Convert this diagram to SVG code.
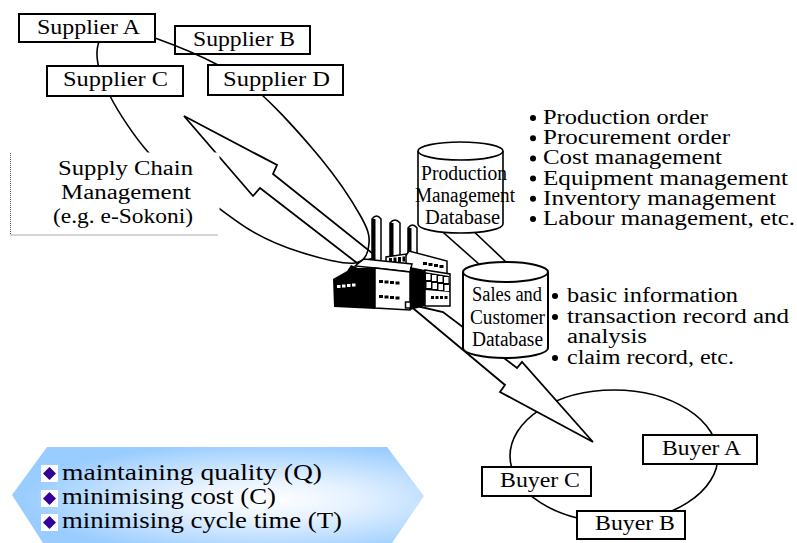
<svg xmlns="http://www.w3.org/2000/svg" width="797" height="543" viewBox="0 0 797 543">
  <defs>
    <radialGradient id="glow" cx="0.62" cy="0.55" r="0.6">
      <stop offset="0" stop-color="#ffffff"/>
      <stop offset="0.35" stop-color="#e6f2ff"/>
      <stop offset="1" stop-color="#99ccff"/>
    </radialGradient>
    <style>
      .box { fill: #fff; stroke: #000; stroke-width: 2; }
      .lbl { font-family: 'Liberation Serif', serif; font-size: 20px; fill: #000; }
      .cond { font-family: 'Liberation Serif', serif; font-size: 20px; fill: #000; }
      .ring { fill: none; stroke: #000; stroke-width: 1.6; }
      .bolt { fill: #fff; stroke: #000; stroke-width: 1.8; stroke-linejoin: miter; }
      .pipe { fill: none; stroke: #000; stroke-width: 1.6; }
      .db { fill: #fff; stroke: #000; }
      .blk { fill: #000; }
      .wht { fill: #fff; stroke: #000; stroke-width: 1.5; }
      .dot { fill: #000; }
      .goal { font-family: 'Liberation Serif', serif; font-size: 23px; fill: #000; }
    </style>
  </defs>

  <!-- supplier B sits beneath the supply-chain loop -->
  <g id="supplier-b">
    <rect class="box" x="175" y="26" width="135" height="28"/>
    <text class="lbl" x="193" y="46" textLength="102" lengthAdjust="spacingAndGlyphs">Supplier B</text>
  </g>

  <g id="connectors">
    <!-- bolt from the factory up to the suppliers -->
    <polygon class="bolt" points="184,116 277,165 273,174 377,257 357,263 260,188 253,196"/>
    <!-- supply-chain loop -->
    <path class="ring" d="M355,263 C343.5,264.5 317.5,257.5 300,252 C282.5,246.5 268.3,241 250,230 C231.7,219 207,199 190,186 C173,173 161.3,167 148,152 C134.7,137 118.5,112.7 110,96 C101.5,79.3 96.5,63.5 97,52 C97.5,40.5 103.3,29.3 113,27 C122.7,24.7 137.5,31.7 155,38 C172.5,44.3 200.2,55.5 218,65 C235.8,74.5 244.7,79.2 262,95 C279.3,110.8 305.7,140 322,160 C338.3,180 352.2,201.2 360,215 C367.8,228.8 369.8,235 369,243 C368.2,251 366.5,261.5 355,263 Z"/>
  </g>

  <!-- supply chain caption panel -->
  <g id="scm-caption">
    <rect x="10" y="152.5" width="209.5" height="82.5" fill="#fff"/>
    <path d="M10.5,153 V235 H218" fill="none" stroke="#555" stroke-width="1" stroke-dasharray="1 1"/>
    <text class="lbl" x="58" y="175" textLength="135" lengthAdjust="spacingAndGlyphs">Supply Chain</text>
    <text class="lbl" x="61" y="199" textLength="130" lengthAdjust="spacingAndGlyphs">Management</text>
    <text class="lbl" x="53" y="223" textLength="140" lengthAdjust="spacingAndGlyphs">(e.g. e-Sokoni)</text>
  </g>

  <g id="supplier-a">
    <rect class="box" x="19" y="14" width="136" height="28"/>
    <text class="lbl" x="37" y="34" textLength="103" lengthAdjust="spacingAndGlyphs">Supplier A</text>
  </g>
  <g id="supplier-c">
    <rect class="box" x="47" y="66" width="136" height="30"/>
    <text class="lbl" x="63" y="86" textLength="105" lengthAdjust="spacingAndGlyphs">Supplier C</text>
  </g>
  <g id="supplier-d">
    <rect class="box" x="208" y="65" width="135" height="30"/>
    <text class="lbl" x="223" y="86" textLength="107" lengthAdjust="spacingAndGlyphs">Supplier D</text>
  </g>

  <!-- buyer loop, bolt down to buyers, link between databases -->
  <g id="connectors-lower">
    <ellipse class="ring" cx="614" cy="456" rx="104" ry="66"/>
    <polygon class="bolt" points="408,304 505,385 500,392 593,442 522,362 517,368 443,312"/>
    <line class="pipe" x1="436" y1="226" x2="480" y2="265"/>
    <line class="pipe" x1="468" y1="226" x2="506" y2="262"/>
  </g>

  <g id="production-db">
    <path class="db" stroke-width="1.6" d="M418,151 V224 A42.5,9 0 0 0 503,224 V151"/>
    <ellipse class="db" stroke-width="1.6" cx="460.5" cy="151" rx="42.5" ry="9"/>
    <text class="cond" x="421" y="180" textLength="86" lengthAdjust="spacingAndGlyphs">Production</text>
    <text class="cond" x="415" y="202" textLength="100" lengthAdjust="spacingAndGlyphs">Management</text>
    <text class="cond" x="425" y="224" textLength="75" lengthAdjust="spacingAndGlyphs">Database</text>
  </g>

  <g id="sales-db">
    <path class="db" stroke-width="2" d="M463,272 V348 A42.5,10 0 0 0 548,348 V272"/>
    <ellipse class="db" stroke-width="2" cx="505.5" cy="272" rx="42.5" ry="10"/>
    <text class="cond" x="472" y="301" textLength="70" lengthAdjust="spacingAndGlyphs">Sales and</text>
    <text class="cond" x="470" y="324" textLength="75" lengthAdjust="spacingAndGlyphs">Customer</text>
    <text class="cond" x="472" y="346" textLength="71" lengthAdjust="spacingAndGlyphs">Database</text>
  </g>

  <!-- factory icon -->
  <g id="factory">
    <path class="wht" d="M372,266 V219 Q376.5,213 381,219 V266 Z"/>
    <rect class="blk" x="372" y="219" width="3.5" height="47"/>
    <path class="wht" d="M390,266 V223 Q395,217 400,223 V266 Z"/>
    <rect class="blk" x="390" y="223" width="3.5" height="43"/>
    <path class="wht" d="M408,266 V228 Q412.5,222 417,228 V266 Z"/>
    <rect class="blk" x="408" y="228" width="3.5" height="38"/>
    <polygon class="wht" points="405,257 409,251 447,261 447,275 405,270"/>
    <rect class="blk" x="423" y="262" width="4" height="3"/>
    <rect class="blk" x="428.5" y="263" width="4" height="3"/>
    <rect class="blk" x="434" y="264" width="4" height="3"/>
    <rect class="blk" x="439.5" y="265" width="4" height="3"/>
    <polygon class="wht" points="386,266 386,257 406,254 406,266"/>
    <rect class="blk" x="389" y="258" width="3" height="5"/>
    <rect class="blk" x="393.5" y="257.5" width="3" height="5"/>
    <rect class="blk" x="398" y="257" width="3" height="5"/>
    <rect class="blk" x="402.5" y="256.5" width="2.5" height="5"/>
    <polygon class="wht" points="355,266 364,259 412,264 410,272 375,268"/>
    <polygon class="blk" points="333,279 347,271 351,265 358,268 375,268 375,309 334,307"/>
    <rect x="337" y="285" width="3.5" height="3" fill="#fff"/>
    <rect x="342" y="284.5" width="3.5" height="3" fill="#fff"/>
    <rect x="347" y="284" width="3.5" height="3" fill="#fff"/>
    <rect x="352" y="283.5" width="3.5" height="3" fill="#fff"/>
    <polygon class="wht" points="375,268 410,272 410,310 375,308"/>
    <rect class="blk" x="379" y="280" width="4" height="3"/>
    <rect class="blk" x="384.5" y="280.5" width="4" height="3"/>
    <rect class="blk" x="390" y="281" width="4" height="3"/>
    <rect class="blk" x="395.5" y="281.5" width="4" height="3"/>
    <rect class="blk" x="379" y="295" width="4" height="3"/>
    <rect class="blk" x="384.5" y="295.5" width="4" height="3"/>
    <rect class="blk" x="390" y="296" width="4" height="3"/>
    <rect class="blk" x="395.5" y="296.5" width="4" height="3"/>
    <polygon class="blk" points="410,267 425,270 425,306 410,310"/>
    <polygon class="wht" points="425,270 450,274 450,306 425,306"/>
    <polygon class="blk" points="424,272 449,276 450,292 425,290"/>
    <rect x="426" y="274" width="4.5" height="6" fill="#fff"/>
    <rect x="432" y="275" width="4.5" height="6" fill="#fff"/>
    <rect x="438" y="276" width="4.5" height="6" fill="#fff"/>
    <rect x="444" y="277" width="4.5" height="6" fill="#fff"/>
    <rect x="426.5" y="282" width="4.5" height="6" fill="#fff"/>
    <rect x="432.5" y="283" width="4.5" height="6" fill="#fff"/>
    <rect x="438.5" y="284" width="4.5" height="6" fill="#fff"/>
    <rect x="444.5" y="285" width="4.5" height="6" fill="#fff"/>
    <rect class="blk" x="431" y="296" width="3" height="3"/>
    <rect class="blk" x="435.5" y="296" width="3" height="3"/>
    <rect class="blk" x="440" y="296" width="3" height="3"/>
    <rect class="blk" x="444.5" y="296" width="3" height="3"/>
    <rect class="wht" x="405.5" y="302" width="5" height="6"/>
  </g>

  <g id="buyer-a">
    <rect class="box" x="643" y="435" width="114" height="29"/>
    <text class="lbl" x="662" y="455" textLength="79" lengthAdjust="spacingAndGlyphs">Buyer A</text>
  </g>
  <g id="buyer-c">
    <rect class="box" x="482" y="467" width="109" height="29"/>
    <text class="lbl" x="500" y="487" textLength="80" lengthAdjust="spacingAndGlyphs">Buyer C</text>
  </g>
  <g id="buyer-b">
    <rect class="box" x="577" y="511" width="108" height="28"/>
    <text class="lbl" x="595" y="530" textLength="80" lengthAdjust="spacingAndGlyphs">Buyer B</text>
  </g>

  <!-- production database functions -->
  <g id="production-list">
    <circle class="dot" cx="533" cy="118" r="3"/>
    <text class="lbl" x="543" y="124" textLength="165" lengthAdjust="spacingAndGlyphs">Production order</text>
    <circle class="dot" cx="533" cy="138.2" r="3"/>
    <text class="lbl" x="543" y="144.2" textLength="187" lengthAdjust="spacingAndGlyphs">Procurement order</text>
    <circle class="dot" cx="533" cy="158.4" r="3"/>
    <text class="lbl" x="543" y="164.4" textLength="179" lengthAdjust="spacingAndGlyphs">Cost management</text>
    <circle class="dot" cx="533" cy="178.6" r="3"/>
    <text class="lbl" x="543" y="184.6" textLength="245" lengthAdjust="spacingAndGlyphs">Equipment management</text>
    <circle class="dot" cx="533" cy="198.8" r="3"/>
    <text class="lbl" x="543" y="204.8" textLength="233" lengthAdjust="spacingAndGlyphs">Inventory management</text>
    <circle class="dot" cx="533" cy="219" r="3"/>
    <text class="lbl" x="543" y="225" textLength="252" lengthAdjust="spacingAndGlyphs">Labour management, etc.</text>
  </g>

  <!-- sales database contents -->
  <g id="sales-list">
    <circle class="dot" cx="555" cy="296" r="3"/>
    <text class="lbl" x="567" y="302" textLength="171" lengthAdjust="spacingAndGlyphs">basic information</text>
    <circle class="dot" cx="555" cy="317" r="3"/>
    <text class="lbl" x="567" y="323" textLength="222" lengthAdjust="spacingAndGlyphs">transaction record and</text>
    <text class="lbl" x="567" y="343" textLength="80" lengthAdjust="spacingAndGlyphs">analysis</text>
    <circle class="dot" cx="555" cy="358" r="3"/>
    <text class="lbl" x="567" y="364" textLength="167" lengthAdjust="spacingAndGlyphs">claim record, etc.</text>
  </g>

  <!-- objectives banner -->
  <g id="objectives">
    <polygon points="12,495 47,447 387,447 424,496 392,543 43,543" fill="url(#glow)"/>
    <rect x="41" y="465" width="17" height="17" fill="#fff"/>
    <polygon points="49.5,467 56,473.5 49.5,480 43,473.5" fill="#330099"/>
    <rect x="41" y="490" width="17" height="17" fill="#fff"/>
    <polygon points="49.5,492 56,498.5 49.5,505 43,498.5" fill="#330099"/>
    <rect x="41" y="514" width="17" height="17" fill="#fff"/>
    <polygon points="49.5,516 56,522.5 49.5,529 43,522.5" fill="#330099"/>
    <text class="goal" x="62" y="480" textLength="260" lengthAdjust="spacingAndGlyphs">maintaining quality (Q)</text>
    <text class="goal" x="62" y="504" textLength="214" lengthAdjust="spacingAndGlyphs">minimising cost (C)</text>
    <text class="goal" x="62" y="528" textLength="280" lengthAdjust="spacingAndGlyphs">minimising cycle time (T)</text>
  </g>
</svg>
